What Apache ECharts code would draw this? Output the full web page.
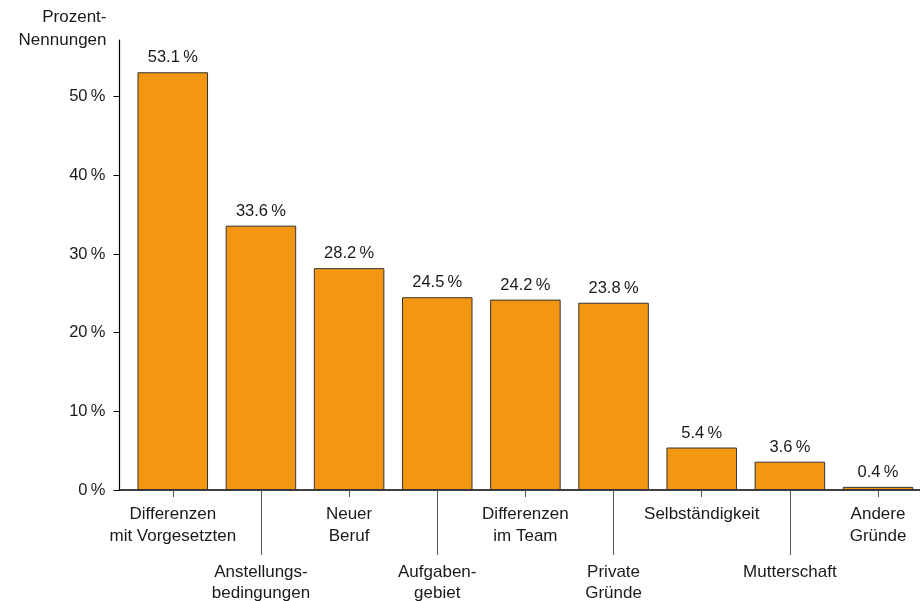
<!DOCTYPE html>
<html>
<head>
<meta charset="utf-8">
<script src="https://cdn.jsdelivr.net/npm/echarts@6/dist/echarts.min.js"></script>
<style>
  html, body { margin: 0; padding: 0; background: #fff; }
  #chart { width: 920px; height: 601px; }
</style>
</head>
<body>
<div id="chart"></div>
<script>
// Gründe für den Stellenwechsel (Mehrfachnennungen)
const categories = [
  'Differenzen\nmit Vorgesetzten',
  'Anstellungs-\nbedingungen',
  'Neuer\nBeruf',
  'Aufgaben-\ngebiet',
  'Differenzen\nim Team',
  'Private\nGründe',
  'Selbständigkeit',
  'Mutterschaft',
  'Andere\nGründe'
];
const values = [53.1, 33.6, 28.2, 24.5, 24.2, 23.8, 5.4, 3.6, 0.4];
const yTicks = [0, 10, 20, 30, 40, 50];
const yMax = 57.2;

const FONT = '"Liberation Sans", Arial, Helvetica, sans-serif';
const PCT = '\u2009%';
const TOP = 40, BOTTOM = 111;

const chart = echarts.init(document.getElementById('chart'), null, { renderer: 'canvas' });

chart.setOption({
  animation: false,
  backgroundColor: '#ffffff',
  textStyle: { fontFamily: FONT },
  grid: [
    // bars
    { left: 128.7, width: 793.4, top: TOP, bottom: BOTTOM, containLabel: false, outerBoundsMode: 'none' },
    // frame: y axis and full baseline
    { left: 119.5, right: 0, top: TOP, bottom: BOTTOM, containLabel: false, outerBoundsMode: 'none' }
  ],
  xAxis: [
    {
      // upper row of category labels, short ticks
      type: 'category', gridIndex: 0, data: categories, position: 'bottom',
      axisLine: { show: false },
      axisTick: {
        show: true, alignWithLabel: true, length: 7,
        interval: (i) => i % 2 === 0,
        lineStyle: { color: '#555', width: 1 }
      },
      axisLabel: {
        interval: (i) => i % 2 === 0,
        margin: 13, color: '#1a1a1a', fontSize: 17, lineHeight: 22,
        fontFamily: FONT, align: 'center'
      }
    },
    {
      // lower row of category labels, long ticks
      type: 'category', gridIndex: 0, data: categories, position: 'bottom', offset: 0,
      axisLine: { show: false },
      axisTick: {
        show: true, alignWithLabel: true, length: 65,
        interval: (i) => i % 2 === 1,
        lineStyle: { color: '#555', width: 1 }
      },
      axisLabel: {
        interval: (i) => i % 2 === 1,
        margin: 72, color: '#1a1a1a', fontSize: 17, lineHeight: 21,
        fontFamily: FONT, align: 'center'
      }
    },
    {
      type: 'value', gridIndex: 1, min: 0, max: 1, position: 'bottom',
      axisLine: { show: true, onZero: false, lineStyle: { color: '#000', width: 1.5 } },
      axisTick: { show: false }, axisLabel: { show: false }, splitLine: { show: false }
    }
  ],
  yAxis: [
    {
      type: 'value', gridIndex: 0, min: 0, max: yMax, interval: 10, show: false
    },
    {
      type: 'value', gridIndex: 1, min: 0, max: yMax, interval: 10,
      name: 'Prozent-\nNennungen',
      nameLocation: 'end', nameGap: 11,
      nameTextStyle: {
        color: '#1a1a1a', fontSize: 17, lineHeight: 23, fontFamily: FONT,
        align: 'right', verticalAlign: 'middle', padding: [0, 13, 0, 0]
      },
      axisLine: { show: true, lineStyle: { color: '#000', width: 1.2 } },
      axisTick: {
        show: true, length: 6, customValues: yTicks,
        lineStyle: { color: '#000', width: 1 }
      },
      axisLabel: {
        customValues: yTicks, margin: 14, color: '#1a1a1a', fontSize: 16.5,
        fontFamily: FONT, formatter: (v) => v + PCT
      },
      splitLine: { show: false }
    }
  ],
  series: [
    {
      type: 'bar', xAxisIndex: 0, yAxisIndex: 0,
      data: values,
      barCategoryGap: '20%',
      itemStyle: { color: '#F39712', borderColor: '#333333', borderWidth: 1 },
      label: {
        show: true, position: 'top', distance: 6,
        color: '#1a1a1a', fontSize: 16.5, fontFamily: FONT,
        formatter: (p) => p.value.toFixed(1) + PCT
      }
    }
  ]
});
</script>
</body>
</html>
